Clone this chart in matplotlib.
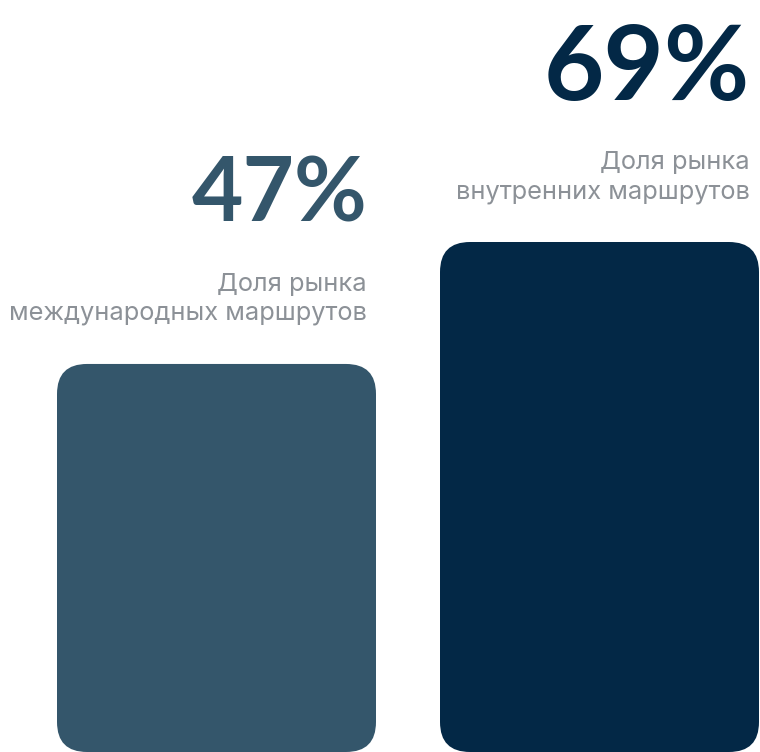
import numpy as np
import matplotlib.pyplot as plt
from matplotlib.patches import FancyBboxPatch
from matplotlib.transforms import offset_copy

# data
values = [47, 69]
labels = ['47%', '69%']
captions = ['Доля рынка\nмеждународных маршрутов', 'Доля рынка\nвнутренних маршрутов']
colors = ['#34566b', '#032846']
label_sizes = [64, 75]

base = -23  # bars start below zero in the original layout
px_x = 383.0  # pixels per x unit
px_y = 510.0 / (values[1] - base)  # pixels per value unit

fig = plt.figure(figsize=(7.6, 7.52), dpi=100)
ax = fig.add_axes([0, 0, 1, 1])
ax.set_xlim(-216.5 / px_x, (760 - 216.5) / px_x)
ax.set_ylim(base, base + 752 / px_y)
ax.axis('off')

x = np.arange(len(values))
bars = ax.bar(x, np.array(values) - base, bottom=base, width=319 / px_x, color=colors)

# swap plain bars for rounded ones
r = 30 / px_x
for b, c in zip(bars, colors):
    b.remove()
    p = FancyBboxPatch((b.get_x(), b.get_y()), b.get_width(), b.get_height(),
                       boxstyle='round,pad=0,rounding_size=%f' % r,
                       mutation_aspect=px_x / px_y, fc=c, ec='none')
    ax.add_patch(p)

for i, v in enumerate(values):
    xr = x[i] + bars[i].get_width() / 2
    t = offset_copy(ax.transData, fig=fig, x=-9, y=142, units='dots')
    ax.text(xr, v, labels[i], transform=t, ha='right', va='baseline',
            fontsize=label_sizes[i], color=colors[i], family='Lato', fontweight='bold')
    t2 = offset_copy(ax.transData, fig=fig, x=-9, y=44, units='dots')
    ax.text(xr, v, captions[i], transform=t2, ha='right', va='baseline',
            fontsize=18.3, color='#8c9197', family=['Inter', 'DejaVu Sans'],
            linespacing=1.33, multialignment='right')

plt.savefig('out.png', dpi=100)
